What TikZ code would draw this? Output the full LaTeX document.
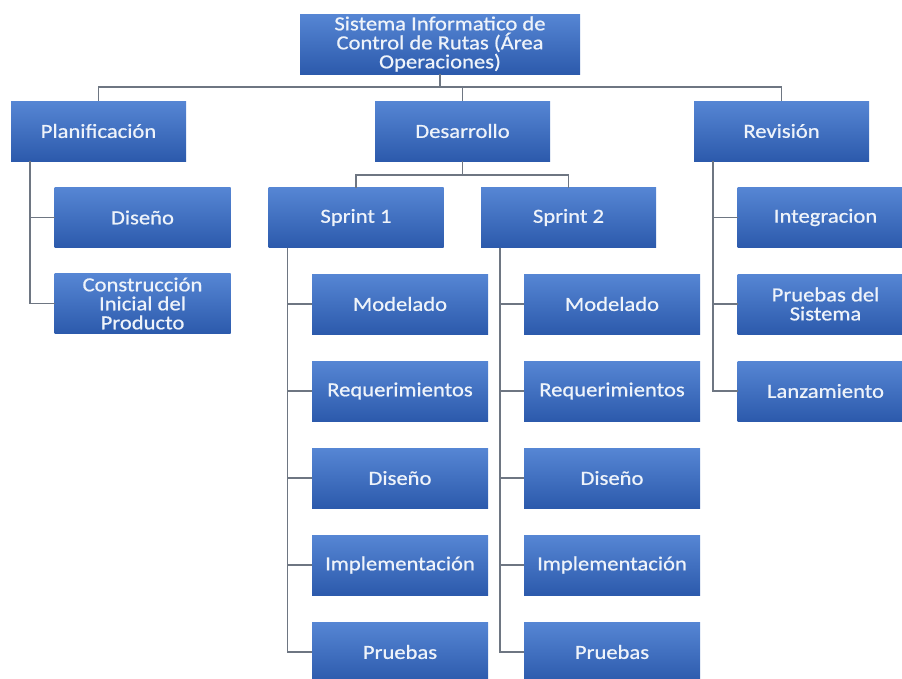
\documentclass[tikz,border=0pt]{standalone}
\usepackage{fontspec}
\setsansfont{Carlito}[FakeStretch=1.13,FakeBold=0.7]
\usepackage{tikz}
\usetikzlibrary{positioning}
\definecolor{boxtop}{RGB}{86,134,212}
\definecolor{boxbot}{RGB}{44,90,172}
\definecolor{boxtext}{RGB}{238,243,250}
\definecolor{linegray}{RGB}{110,118,130}
\tikzset{
    basic/.style  = {rectangle, inner sep=0pt, outer sep=0pt, align=center,
                     top color=boxtop, bottom color=boxbot, text=boxtext,
                     font=\sffamily\fontsize{20}{19}\selectfont},
    root/.style   = {basic, minimum width=280pt, minimum height=60pt},
    fase/.style   = {basic, minimum width=175pt, minimum height=60pt},
    hoja/.style   = {basic, minimum width=176pt, minimum height=60pt},
    conn/.style   = {draw=linegray, line width=1.3pt}
}
\begin{document}
\begin{tikzpicture}[x=1pt,y=-1pt]
	\useasboundingbox (0,0) rectangle (902,678);
	\clip (0,0) rectangle (902,678);
		% nivel 0 y 1
		\node[root] (root) at (440,44) {Sistema Informatico de\\Control de Rutas (Área\\Operaciones)};
		\node[fase] (plan) at (98.5,131) {Planificación};
		\node[fase] (des) at (462.5,131) {Desarrollo};
		\node[fase] (rev) at (781.5,131) {Revisión};
		\foreach \n in {plan,des,rev}
			\draw[conn] (root.south) -- ++(0,13) -| (\n.north);
		% planificacion
		\node[hoja] (dis) at (142.5,217.5) {Diseño};
		\node[hoja] (cons) at (142.5,303.5) {Construcción\\Inicial del\\Producto};
		\foreach \n in {dis,cons}
			\draw[conn] ([xshift=19pt]plan.south west) |- (\n.west);
		% sprints
		\node[fase] (sp1) at (356,217.5) {Sprint 1};
		\node[fase] (sp2) at (568.5,217.5) {Sprint 2};
		\foreach \n in {sp1,sp2}
			\draw[conn] (des.south) -- ++(0,14) -| (\n.north);
		\foreach \s/\x in {1/400,2/612}{
			\foreach \t [count=\i] in {Modelado,Requerimientos,Diseño,Implementación,Pruebas}{
				\node[hoja] (s\s-\i) at (\x,{217+87*\i}) {\t};
				\draw[conn] ([xshift=19pt]sp\s.south west) |- (s\s-\i.west);
			}
		}
		% revision
		\node[hoja] (integ) at (825.5,217.5) {Integracion};
		\node[hoja] (prue) at (825.5,304) {Pruebas del\\Sistema};
		\node[hoja] (lanz) at (825.5,391) {Lanzamiento};
		\foreach \n in {integ,prue,lanz}
			\draw[conn] ([xshift=19pt]rev.south west) |- (\n.west);
\end{tikzpicture}
\end{document}
